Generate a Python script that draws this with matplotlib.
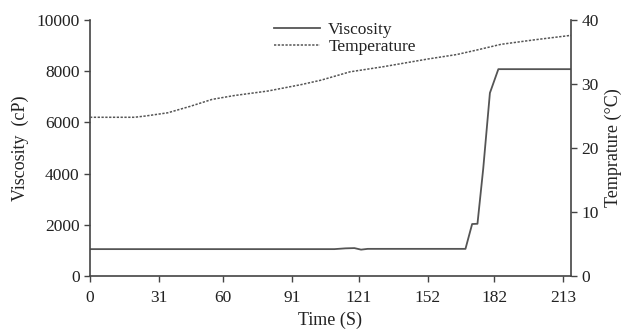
import matplotlib
matplotlib.use("Agg")
import matplotlib.pyplot as plt

plt.rcParams['font.family'] = ['Liberation Serif', 'DejaVu Serif']

visc_time = [0, 110, 115, 119, 122, 125, 169, 172, 174.4, 177, 180, 183.8, 216.5]
viscosity = [1050, 1050, 1080, 1090, 1030, 1060, 1060, 2030, 2040, 4200, 7150, 8080, 8080]

temp_time = [0, 10, 20, 25, 35, 45, 55, 65, 80, 95, 104, 117, 132, 152, 165, 174, 185, 200, 216.5]
temperature = [24.8, 24.8, 24.8, 25.0, 25.5, 26.5, 27.6, 28.2, 28.9, 29.9, 30.6, 31.9, 32.7, 33.9, 34.6, 35.3, 36.2, 36.9, 37.6]

xticks = [0, 31, 60, 91, 121, 152, 182, 213]

fig = plt.figure(figsize=(6.29, 3.32), dpi=100)
ax = fig.add_axes([90/629, 1 - 276/332, (571-90)/629, (276-20)/332])
ax2 = ax.twinx()

gray = '#444444'
l1, = ax.plot(visc_time, viscosity, color='#555555', lw=1.3, label='Viscosity')
l2, = ax2.plot(temp_time, temperature, color='#555555', lw=1.1, ls=(0, (1.5, 1)), label='Temperature')

ax.set_xlim(0, 216.5)
ax.set_ylim(0, 10000)
ax2.set_ylim(0, 40)
ax.set_xticks(xticks)
ax.set_yticks([0, 2000, 4000, 6000, 8000, 10000])
ax2.set_yticks([0, 10, 20, 30, 40])

for a in (ax, ax2):
    a.spines['top'].set_visible(False)
    for s in a.spines.values():
        s.set_color(gray)
        s.set_linewidth(1.2)
    a.tick_params(colors=gray, labelcolor='#222222', labelsize=12.5, length=4, width=1)
ax.tick_params(axis='x', pad=6)
ax.spines['right'].set_visible(False)
ax2.spines['left'].set_visible(False)
ax2.spines['bottom'].set_visible(False)

ax.set_xlabel('Time (S)', fontsize=13, color='#222222', labelpad=4)
ax.set_ylabel('Viscosity  (cP)', fontsize=13, color='#222222', labelpad=5)
ax2.set_ylabel('Temprature (°C)', fontsize=13, color='#222222', labelpad=4)

leg = ax.legend(handles=[l1, l2], loc='upper left', bbox_to_anchor=(0.369, 1.02),
                frameon=False, fontsize=12.5, handlelength=2.6, handletextpad=0.5,
                labelspacing=0.05, borderaxespad=0)
for t in leg.get_texts():
    t.set_color('#222222')

fig.savefig('out.png', dpi=100)
